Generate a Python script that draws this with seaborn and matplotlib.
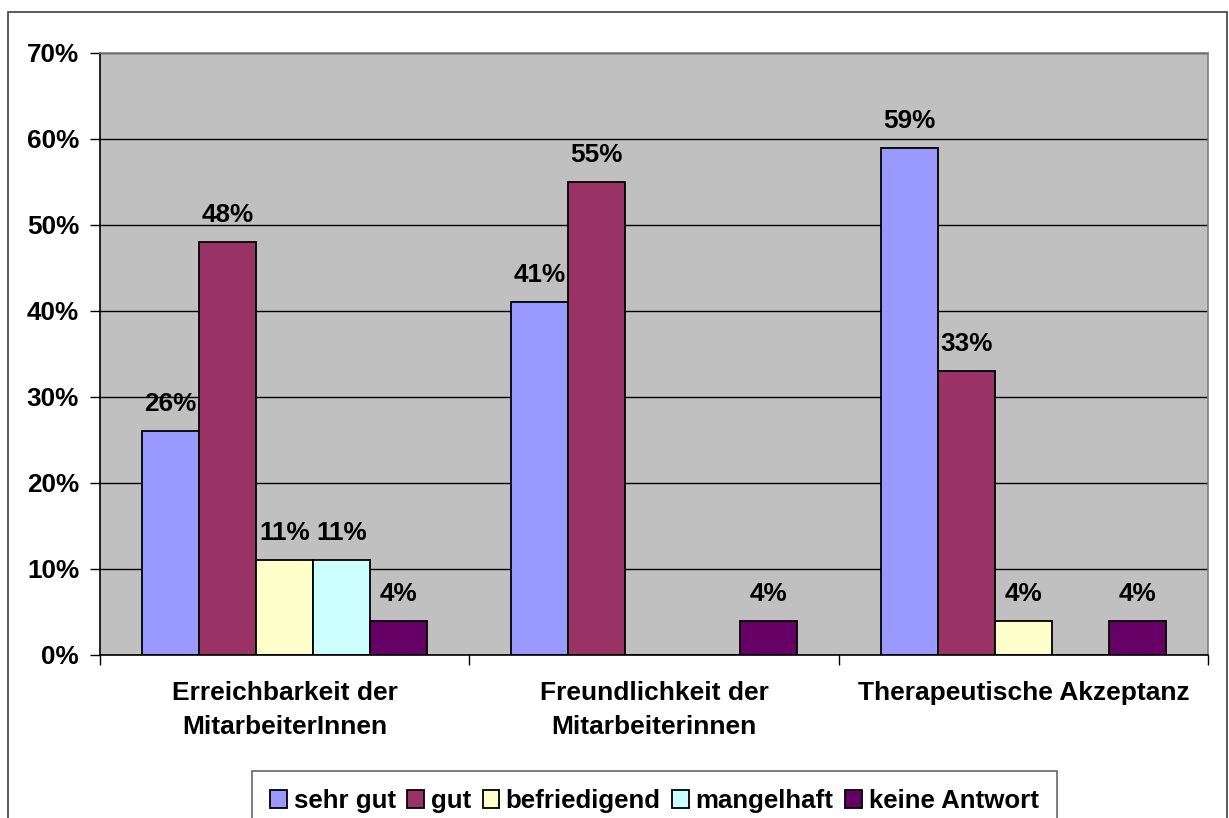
import pandas as pd
import matplotlib.pyplot as plt
import seaborn as sns
from matplotlib.patches import Rectangle, Patch
from matplotlib.ticker import FixedLocator

# Daten aus der Grafik (Anteile in %)
kategorien = ['Erreichbarkeit der\nMitarbeiterInnen',
              'Freundlichkeit der\nMitarbeiterinnen',
              'Therapeutische Akzeptanz']
antworten = ['sehr gut', 'gut', 'befriedigend', 'mangelhaft', 'keine Antwort']
sehr_gut = [26, 41, 59]
gut = [48, 55, 33]
befriedigend = [11, 0, 4]
mangelhaft = [11, 0, 0]
keine_antwort = [4, 4, 4]
farben = ['#9999FF', '#993366', '#FFFFCC', '#CCFFFF', '#660066']

werte = [sehr_gut, gut, befriedigend, mangelhaft, keine_antwort]
df = pd.DataFrame([
    {'Kategorie': k, 'Antwort': a, 'Wert': w[i]}
    for a, w in zip(antworten, werte)
    for i, k in enumerate(kategorien)
])

sns.set_style('white')
plt.rcParams['font.family'] = ['Liberation Sans', 'DejaVu Sans']
plt.rcParams['font.weight'] = 'bold'
plt.rcParams['text.color'] = 'black'
plt.rcParams['xtick.color'] = 'black'
plt.rcParams['ytick.color'] = 'black'

fig = plt.figure(figsize=(12.29, 8.18), dpi=100)
ax = fig.add_axes([100 / 1229, 1 - 655 / 818, 1108 / 1229, 602 / 818])
ax.set_facecolor('#C0C0C0')

sns.barplot(data=df, x='Kategorie', y='Wert', hue='Antwort',
            order=kategorien, hue_order=antworten, palette=farben,
            width=0.773, edgecolor='black', linewidth=1.3,
            saturation=1, legend=False, ax=ax)

# Datenbeschriftungen
for cont in ax.containers:
    for bar in cont:
        h = bar.get_height()
        if h > 0:
            ax.annotate(f'{h:.0f}%', (bar.get_x() + bar.get_width() / 2, h),
                        xytext=(0, 19.5), textcoords='offset points',
                        ha='center', va='center', fontsize=18.8,
                        fontweight='bold', color='black')

ax.set_ylim(0, 70)
ax.set_xlim(-0.5, 2.5)
ax.set_yticks(range(0, 71, 10))
ax.set_yticklabels([f'{v}%' for v in range(0, 71, 10)], fontsize=18.8,
                   fontweight='bold')
ax.set_xticklabels(kategorien, fontsize=19, fontweight='bold',
                   linespacing=1.5)
ax.xaxis.set_minor_locator(FixedLocator([-0.5, 0.5, 1.5, 2.5]))
ax.tick_params(axis='x', which='major', length=0, pad=19)
ax.tick_params(axis='x', which='minor', length=7, width=1,
               color='black', direction='out', bottom=True)
ax.tick_params(axis='y', length=7, width=1, color='black',
               direction='out', left=True, pad=8)
ax.set_xlabel('')
ax.set_ylabel('')
ax.yaxis.grid(True, color='black', linewidth=1)
ax.set_axisbelow(True)
for s in ['top', 'right']:
    ax.spines[s].set_color('#808080')
    ax.spines[s].set_linewidth(1.2)
for s in ['left', 'bottom']:
    ax.spines[s].set_color('black')
    ax.spines[s].set_linewidth(1.2)

# Legende
handles = [Patch(facecolor=c, edgecolor='black', linewidth=1.3) for c in farben]
leg = fig.legend(handles, antworten, loc='upper center',
                 bbox_to_anchor=(654.5 / 1229, 1 - 771 / 818), ncol=5,
                 fontsize=18.6, frameon=True, fancybox=False,
                 handlelength=0.65, handleheight=0.65, handletextpad=0.25,
                 columnspacing=0.45, borderpad=0.7, borderaxespad=0)
leg.get_frame().set_edgecolor('#404040')
leg.get_frame().set_linewidth(1.2)
for t in leg.get_texts():
    t.set_fontweight('bold')
    t.set_color('black')

# Rahmen um die gesamte Grafik
fig.patches.append(Rectangle((8 / 1229, -0.05), 1219 / 1229, 1.05 - 12 / 818,
                             transform=fig.transFigure, fill=False,
                             edgecolor='#404040', linewidth=1.2))

fig.savefig('out.png', dpi=100)
